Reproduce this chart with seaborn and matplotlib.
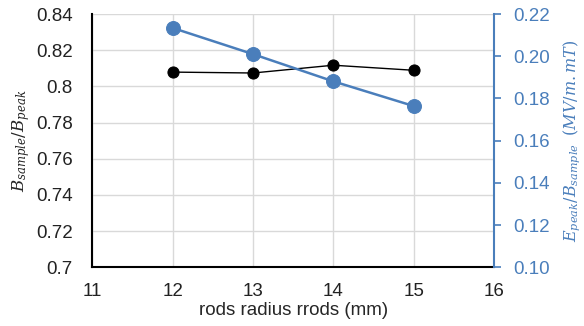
import numpy as np
import pandas as pd
import seaborn as sns
import matplotlib
matplotlib.use('Agg')
import matplotlib.pyplot as plt

#rod radius values (mm)
radius = [12, 13, 14, 15]

#B_sample / B_peak (left axis)
b_ratio = [0.8079, 0.8074, 0.8117, 0.8089]

#E_peak / B_sample (right axis)
e_ratio = [0.2134, 0.2010, 0.1881, 0.1764]

BLUE = '#4a7ebb'

sns.set_style('white')
plt.rcParams['font.family'] = ['Liberation Sans', 'DejaVu Sans']
plt.rcParams['mathtext.fontset'] = 'dejavuserif'

df = pd.DataFrame({'radius': radius, 'b_ratio': b_ratio, 'e_ratio': e_ratio})

fig, ax = plt.subplots(figsize=(5.84, 3.26), dpi=100)
fig.subplots_adjust(left=0.158, right=0.846, top=0.957, bottom=0.18)

#grid lines
ax.grid(True, color='#d9d9d9', linewidth=1.0)
ax.set_axisbelow(True)

sns.lineplot(data=df, x='radius', y='b_ratio', ax=ax, color='black', linewidth=1.0,
             marker='o', markersize=8, markeredgecolor='black')
ax.set_xlim(11, 16)
ax.set_ylim(0.7, 0.84)
ax.set_xticks(range(11, 17))
ax.set_yticks(np.arange(0.70, 0.841, 0.02))
ax.set_yticklabels(['0.7', '0.72', '0.74', '0.76', '0.78', '0.8', '0.82', '0.84'])
ax.tick_params(axis='x', labelsize=13.5, colors='#222222', length=0, pad=11)
ax.tick_params(axis='y', labelsize=13.5, colors='#222222', length=0, pad=14)
ax.set_xlabel('rods radius rrods (mm)', fontsize=13.5, labelpad=2)
ax.set_ylabel('$B_{sample}/B_{peak}$', fontsize=12, labelpad=3)
for s in ['top', 'right']:
    ax.spines[s].set_visible(False)
ax.spines['left'].set_color('black')
ax.spines['bottom'].set_color('black')
ax.spines['left'].set_linewidth(1.5)
ax.spines['bottom'].set_linewidth(1.5)

ax2 = ax.twinx()
sns.lineplot(data=df, x='radius', y='e_ratio', ax=ax2, color=BLUE, linewidth=1.8,
             marker='o', markersize=10, markeredgecolor=BLUE)
ax2.set_ylim(0.10, 0.22)
ax2.set_yticks(np.arange(0.10, 0.221, 0.02))
ax2.set_yticklabels([f'{v:.2f}' for v in np.arange(0.10, 0.221, 0.02)])
ax2.tick_params(axis='y', labelsize=13.5, colors=BLUE, direction='out', length=5, width=1.2, pad=9)
ax2.set_ylabel('$E_{peak}/B_{sample}$  $(MV/m.mT)$', fontsize=11.5, color=BLUE, labelpad=8)
for s in ['top', 'left', 'bottom']:
    ax2.spines[s].set_visible(False)
ax2.spines['right'].set_color(BLUE)
ax2.spines['right'].set_linewidth(1.5)
ax2.grid(False)

fig.savefig('out.png', dpi=100)
